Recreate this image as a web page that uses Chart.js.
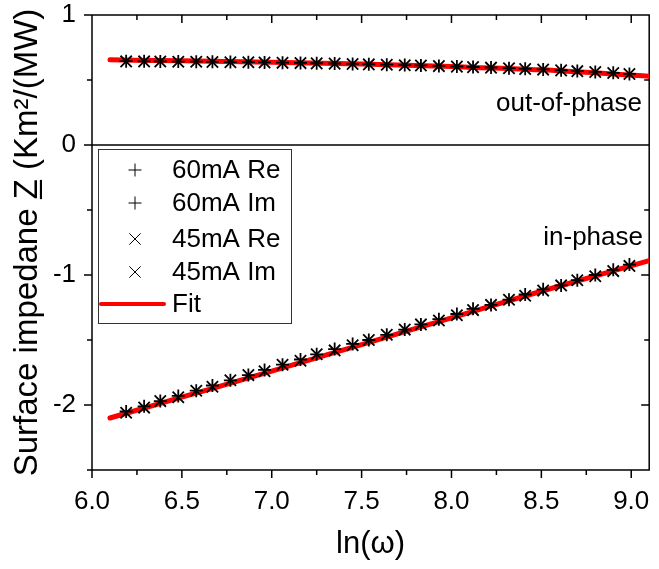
<!DOCTYPE html>
<html>
<head>
<meta charset="utf-8">
<script src="https://cdn.jsdelivr.net/npm/chart.js@4.4.1/dist/chart.umd.min.js"></script>
<style>
  html, body { margin: 0; padding: 0; background: #fff; }
  #wrap { width: 659px; height: 569px; }
</style>
</head>
<body>
<div id="wrap"><canvas id="c" width="659" height="569"></canvas></div>
<script>
// ln(omega) sample positions
const lnOmega = [6.19, 6.29, 6.38, 6.48, 6.58, 6.67, 6.77, 6.87, 6.96, 7.06,
                 7.16, 7.25, 7.35, 7.45, 7.54, 7.64, 7.74, 7.83, 7.93, 8.03,
                 8.12, 8.22, 8.32, 8.41, 8.51, 8.61, 8.70, 8.80, 8.90, 8.99];

// in-phase (real) parts
const re60 = [-2.05, -2.01, -1.97, -1.93, -1.89, -1.85, -1.81, -1.77, -1.73, -1.69,
              -1.65, -1.61, -1.57, -1.53, -1.50, -1.46, -1.42, -1.38, -1.34, -1.30,
              -1.26, -1.23, -1.19, -1.15, -1.11, -1.08, -1.04, -1.00, -0.96, -0.92];
const re45 = [-2.06, -2.02, -1.97, -1.94, -1.89, -1.86, -1.81, -1.77, -1.74, -1.69,
              -1.66, -1.61, -1.58, -1.54, -1.50, -1.46, -1.42, -1.38, -1.35, -1.31,
              -1.27, -1.23, -1.19, -1.16, -1.12, -1.08, -1.04, -1.01, -0.97, -0.93];

// out-of-phase (imaginary) parts
const im60 = [0.645, 0.644, 0.643, 0.642, 0.641, 0.640, 0.638, 0.637, 0.635, 0.633,
              0.631, 0.629, 0.627, 0.624, 0.621, 0.618, 0.615, 0.612, 0.608, 0.604,
              0.600, 0.596, 0.591, 0.586, 0.581, 0.575, 0.569, 0.562, 0.555, 0.547];
const im45 = [0.643, 0.643, 0.642, 0.641, 0.640, 0.639, 0.637, 0.636, 0.634, 0.632,
              0.630, 0.628, 0.626, 0.623, 0.620, 0.617, 0.614, 0.611, 0.607, 0.603,
              0.599, 0.595, 0.590, 0.585, 0.580, 0.574, 0.568, 0.561, 0.554, 0.546];

// fitted model curves
const fitX  = [6.1, 6.5, 7.0, 7.5, 8.0, 8.5, 9.1];
const fitRe = [-2.10, -1.94, -1.74, -1.535, -1.33, -1.125, -0.89];
const fitIm = [0.655, 0.648, 0.637, 0.623, 0.603, 0.578, 0.528];

// axis ticks
const xMajor = [6.0, 6.5, 7.0, 7.5, 8.0, 8.5, 9.0];
const xMinor = [6.25, 6.75, 7.25, 7.75, 8.25, 8.75];
const yMajor = [-2, -1, 0, 1];
const yMinor = [-2.5, -1.5, -0.5, 0.5];

const FONT = "'Liberation Sans', Arial, sans-serif";
const pts = ys => lnOmega.map((x, i) => ({ x, y: ys[i] }));
const fitData = fitX.map((x, i) => ({ x, y: fitRe[i] }))
  .concat([{ x: 9.1, y: null }])
  .concat(fitX.map((x, i) => ({ x, y: fitIm[i] })));

function markerSet(label, ys, style, r) {
  return {
    label, data: pts(ys), showLine: false,
    pointStyle: style, pointRadius: r, pointHoverRadius: r,
    borderColor: '#000', backgroundColor: '#000', pointBorderWidth: 1.8
  };
}

function noEdgePadding(s) {
  s.paddingTop = 0; s.paddingBottom = 0; s.paddingLeft = 0; s.paddingRight = 0;
}

// frame, ticks and zero line
const framePlugin = {
  id: 'frame',
  beforeDatasetsDraw(chart) {
    const { ctx, chartArea: a, scales: { x, y } } = chart;
    ctx.save();
    ctx.strokeStyle = '#000';
    ctx.lineWidth = 1.5;
    ctx.beginPath();
    ctx.rect(a.left, a.top, a.right - a.left, a.bottom - a.top);
    const y0 = y.getPixelForValue(0);
    ctx.moveTo(a.left - 8, y0); ctx.lineTo(a.right, y0);
    const tick = (arr, len) => {
      arr.forEach(v => {
        const px = x.getPixelForValue(v);
        ctx.moveTo(px, a.bottom); ctx.lineTo(px, a.bottom + len);
        ctx.moveTo(px, a.top); ctx.lineTo(px, a.top + len);
      });
    };
    const ytick = (arr, len) => {
      arr.forEach(v => {
        const py = y.getPixelForValue(v);
        ctx.moveTo(a.left, py); ctx.lineTo(a.left - len, py);
        ctx.moveTo(a.right, py); ctx.lineTo(a.right - len, py);
      });
    };
    tick(xMajor, 8); tick(xMinor, 5);
    ytick(yMajor, 8); ytick(yMinor, 5);
    ctx.stroke();
    ctx.restore();
  },
  afterDatasetsDraw(chart) {
    const { ctx } = chart;
    ctx.save();
    // region labels
    ctx.fillStyle = '#000';
    ctx.font = '26px ' + FONT;
    ctx.textAlign = 'right';
    ctx.textBaseline = 'middle';
    ctx.fillText('out-of-phase', 642, 104);
    ctx.fillText('in-phase', 643, 238);

    // legend
    const bx = 98, by = 149, bw = 193, bh = 174;
    ctx.fillStyle = '#fff';
    ctx.fillRect(bx, by, bw, bh);
    ctx.strokeStyle = '#333';
    ctx.lineWidth = 1;
    ctx.strokeRect(bx + 0.5, by + 0.5, bw, bh);
    const rows = [170, 203, 239, 272, 304];
    ctx.font = '26px ' + FONT;
    ctx.textAlign = 'left';
    chart.data.datasets.forEach((ds, i) => {
      const ry = rows[i];
      if (ds.showLine) {
        ctx.strokeStyle = ds.borderColor;
        ctx.lineWidth = 4;
        ctx.lineCap = 'round';
        ctx.beginPath(); ctx.moveTo(101, ry); ctx.lineTo(164, ry); ctx.stroke();
      } else {
        ctx.strokeStyle = '#000';
        ctx.fillStyle = '#000';
        Chart.helpers.drawPoint(ctx, { pointStyle: ds.pointStyle, radius: ds.pointRadius, borderWidth: 1 }, 135, ry);
      }
      ctx.fillStyle = '#000';
      ctx.fillText(ds.label, 172, ry + 1);
    });
    ctx.restore();
  }
};

new Chart(document.getElementById('c'), {
  type: 'scatter',
  data: {
    datasets: [
      markerSet('60mA Re', re60, 'cross', 6.5),
      markerSet('60mA Im', im60, 'cross', 6.5),
      markerSet('45mA Re', re45, 'crossRot', 8),
      markerSet('45mA Im', im45, 'crossRot', 8),
      {
        label: 'Fit', data: fitData, showLine: true, spanGaps: false,
        borderColor: '#ff0000', borderWidth: 5, pointRadius: 0,
        cubicInterpolationMode: 'monotone', borderCapStyle: 'round'
      }
    ]
  },
  options: {
    responsive: false,
    animation: false,
    devicePixelRatio: 1,
    layout: { padding: { top: 15, right: 2, left: 0, bottom: 0 } },
    plugins: { legend: { display: false }, tooltip: { enabled: false } },
    scales: {
      x: {
        type: 'linear', min: 6.0, max: 9.1,
        afterFit: s => { s.height = 99; noEdgePadding(s); },
        afterBuildTicks: s => { s.ticks = xMajor.map(v => ({ value: v })); },
        grid: { display: false, drawTicks: false },
        border: { display: false },
        ticks: { color: '#000', font: { family: FONT, size: 26 }, padding: 16,
                 maxRotation: 0, autoSkip: false, callback: v => v.toFixed(1) },
        title: { display: true, text: 'ln(\u03c9)', color: '#000',
                 font: { family: FONT, size: 31 }, padding: { top: 0, bottom: 6 } }
      },
      y: {
        type: 'linear', min: -2.5, max: 1,
        afterFit: s => { s.width = 92; noEdgePadding(s); },
        afterBuildTicks: s => { s.ticks = yMajor.map(v => ({ value: v })); },
        grid: { display: false, drawTicks: false },
        border: { display: false },
        ticks: { color: '#000', font: { family: FONT, size: 26 }, padding: 16,
                 autoSkip: false, callback: v => String(v) },
        title: { display: true, text: 'Surface impedane Z\u0332 (Km\u00b2/(MW)', color: '#000',
                 font: { family: FONT, size: 33 }, padding: { top: 8, bottom: 0 } }
      }
    }
  },
  plugins: [framePlugin]
});
</script>
</body>
</html>
